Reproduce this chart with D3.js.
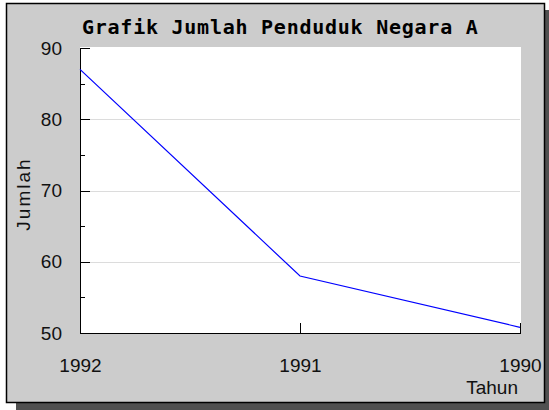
<!DOCTYPE html>
<html lang="en">
<head>
  <meta charset="UTF-8">
  <title>Grafik Jumlah Penduduk Negara A</title>
  <style>
    body { margin: 0; background: #fff; }
    .axis path, .axis line { fill: none; stroke: #000; shape-rendering: crispEdges; }
    .axis text { font-family: "Liberation Sans", Arial, sans-serif; font-size: 19px; fill: #111; }
    .grid line { stroke: #dcdcdc; shape-rendering: crispEdges; }
  </style>
</head>
<body>
  <script src="https://cdn.jsdelivr.net/npm/d3@7"></script>
  <script>
    var years = ["1992", "1991", "1990"];
    var jumlah = [87, 58, 50.8];
    var yTicks = [50, 60, 70, 80, 90];
    var yMinorTicks = [55, 65, 75, 85];

    var width = 549, height = 410;
    var plotLeft = 80, plotRight = 520, plotTop = 48, plotBottom = 333;

    var svg = d3.select("body").append("svg")
      .attr("width", width).attr("height", height);

    // bayangan + bingkai
    svg.append("rect").attr("x", 16).attr("y", 10).attr("width", 533).attr("height", 400).attr("fill", "#505050");
    svg.append("rect").attr("x", 6.5).attr("y", 3.5).attr("width", 538).attr("height", 399)
      .attr("fill", "#cccccc").attr("stroke", "#000").attr("stroke-width", 1.5);

    var x = d3.scalePoint().domain(years).range([plotLeft, plotRight]);
    var y = d3.scaleLinear().domain([50, 90]).range([plotBottom, plotTop]);

    // area plot
    svg.append("rect").attr("x", plotLeft).attr("y", plotTop - 1)
      .attr("width", plotRight - plotLeft + 1).attr("height", plotBottom - plotTop + 1).attr("fill", "#fff");

    // grid
    svg.append("g").attr("class", "grid")
      .selectAll("line").data(yTicks.slice(1, -1)).enter().append("line")
      .attr("x1", plotLeft).attr("x2", plotRight)
      .attr("y1", function (d) { return Math.round(y(d)) + 0.5; })
      .attr("y2", function (d) { return Math.round(y(d)) + 0.5; });

    // sumbu y
    svg.append("g").attr("class", "axis")
      .attr("transform", "translate(" + plotLeft + ",0)")
      .call(d3.axisLeft(y).tickValues(yTicks).tickSize(-10).tickPadding(18).tickSizeOuter(0));
    svg.append("g").attr("class", "axis")
      .attr("transform", "translate(" + plotLeft + ",0)")
      .call(d3.axisLeft(y).tickValues(yMinorTicks).tickSize(-5).tickSizeOuter(0).tickFormat(""))
      .select(".domain").remove();

    // sumbu x
    svg.append("g").attr("class", "axis")
      .attr("transform", "translate(0," + plotBottom + ")")
      .call(d3.axisBottom(x).tickSize(-10).tickPadding(26).tickSizeOuter(0));

    // garis data
    var line = d3.line()
      .x(function (d, i) { return x(years[i]); })
      .y(function (d) { return y(d); });
    svg.append("path").datum(jumlah)
      .attr("d", line).attr("fill", "none").attr("stroke", "#0000ff").attr("stroke-width", 1.2);

    // judul dan label
    svg.append("text").attr("x", 82).attr("y", 34)
      .style("font-family", "'DejaVu Sans Mono', monospace").style("font-weight", "bold")
      .style("font-size", "20px").style("letter-spacing", "0.75px").attr("fill", "#000")
      .text("Grafik Jumlah Penduduk Negara A");

    svg.append("text").attr("x", 518).attr("y", 394).attr("text-anchor", "end")
      .style("font-family", "'Liberation Sans', Arial, sans-serif").style("font-size", "19px").attr("fill", "#111")
      .text("Tahun");

    svg.append("text").attr("transform", "translate(30,194) rotate(-90)").attr("text-anchor", "middle")
      .style("font-family", "'Liberation Sans', Arial, sans-serif").style("font-size", "19px")
      .style("letter-spacing", "2px").attr("fill", "#111")
      .text("Jumlah");
  </script>
</body>
</html>
